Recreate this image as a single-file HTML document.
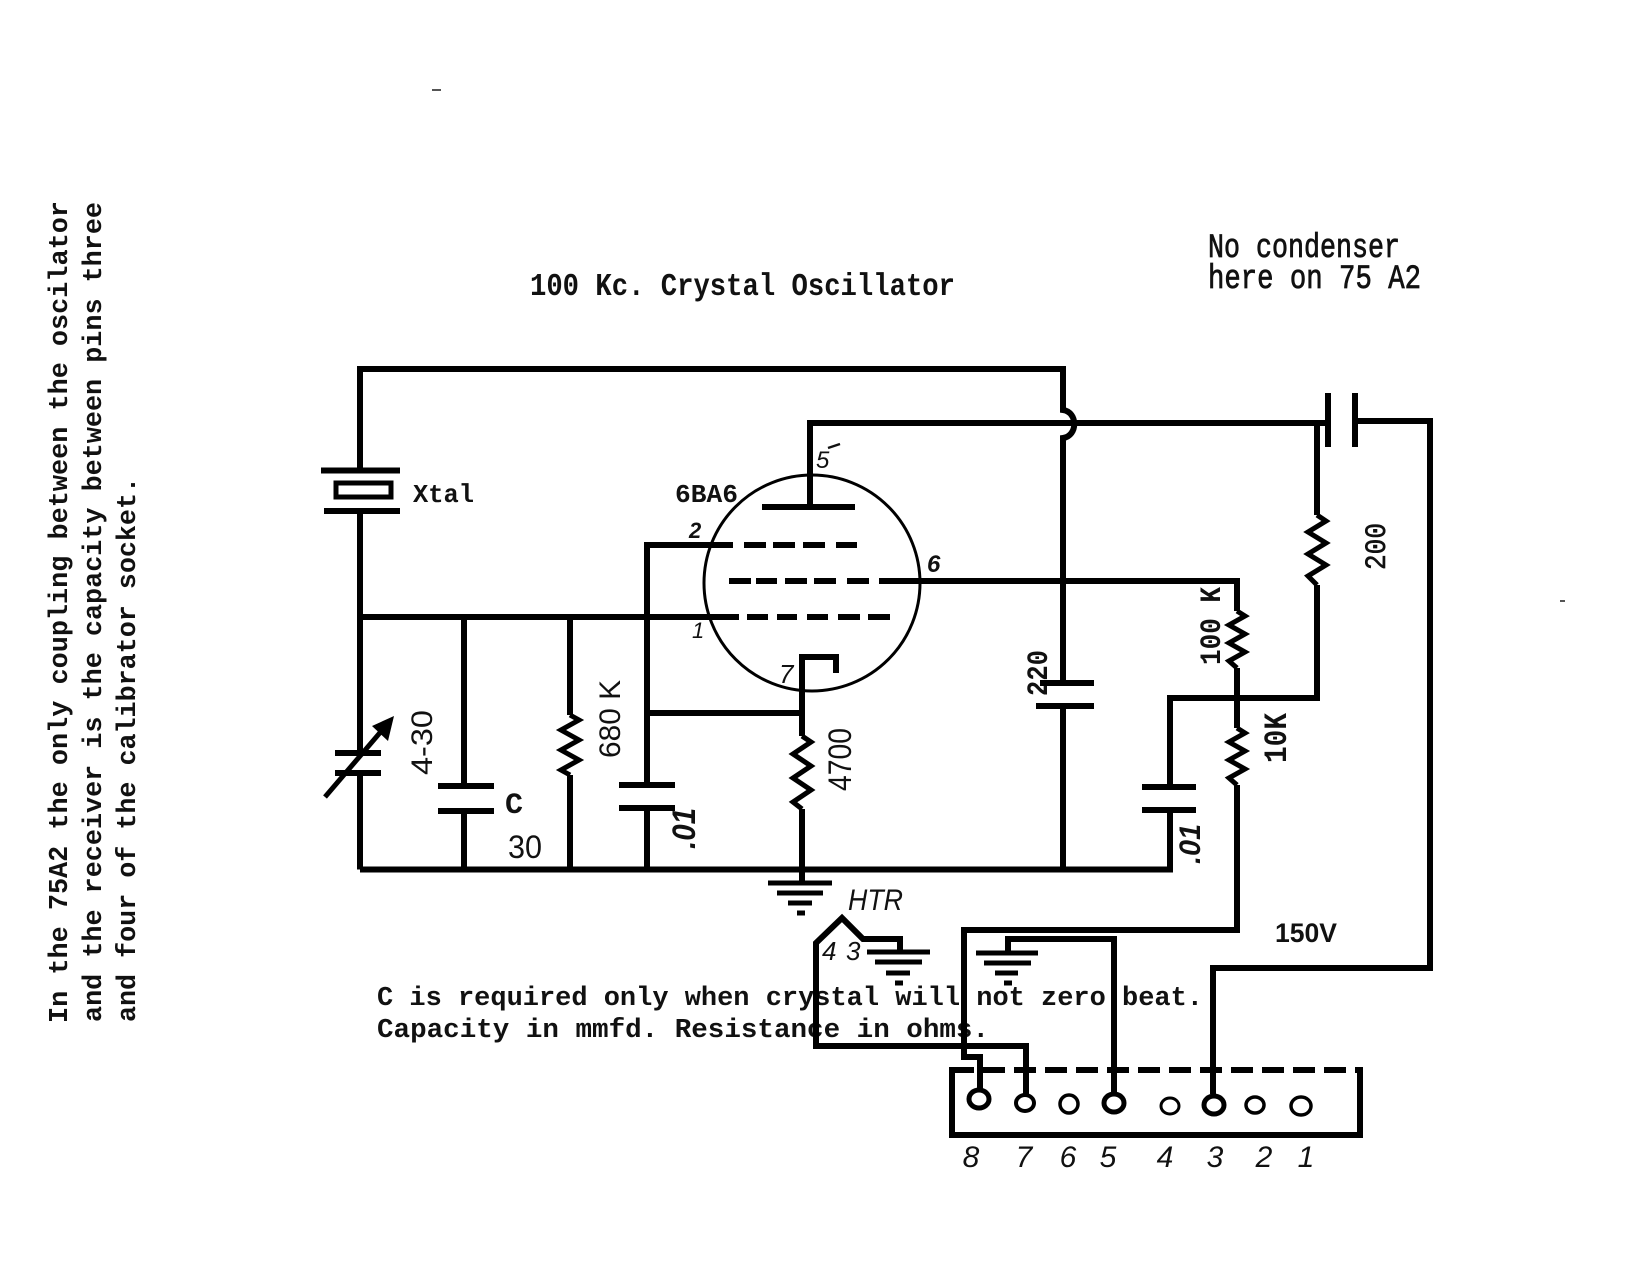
<!DOCTYPE html>
<html>
<head>
<meta charset="utf-8">
<style>
html,body{margin:0;padding:0;background:#fff;}
svg{display:block;}
.mono{font-family:"Liberation Mono",monospace;}
.sans{font-family:"Liberation Sans",sans-serif;}
</style>
</head>
<body>
<svg width="1650" height="1275" viewBox="0 0 1650 1275" xmlns="http://www.w3.org/2000/svg">
<rect x="0" y="0" width="1650" height="1275" fill="#fff"/>

<!-- specks -->
<rect x="432" y="89" width="9" height="2" fill="#555"/>
<rect x="1560" y="600" width="5" height="2" fill="#555"/>

<!-- ===== TEXT ===== -->
<g class="mono" font-weight="bold" font-size="27" fill="#111">
  <text transform="translate(67,1023) rotate(-90)" textLength="822" lengthAdjust="spacingAndGlyphs">In the 75A2 the only coupling between the oscilator</text>
  <text transform="translate(101,1022) rotate(-90)" textLength="820" lengthAdjust="spacingAndGlyphs">and the receiver is the capacity between pins three</text>
  <text transform="translate(135,1022) rotate(-90)" textLength="545" lengthAdjust="spacingAndGlyphs">and four of the calibrator socket.</text>
</g>

<text class="mono" x="530" y="295" font-size="27" font-weight="bold" fill="#111" textLength="425" lengthAdjust="spacingAndGlyphs" transform="translate(0,-44) scale(1,1.15)">100 Kc. Crystal Oscillator</text>

<g class="mono" font-size="27" fill="#111" stroke="#111" stroke-width="0.6">
  <text x="1208" y="257" textLength="192" lengthAdjust="spacingAndGlyphs" transform="translate(0,-67) scale(1,1.26)">No condenser</text>
  <text x="1208" y="288" textLength="213" lengthAdjust="spacingAndGlyphs" transform="translate(0,-75) scale(1,1.26)">here on 75 A2</text>
</g>

<g class="mono" font-weight="bold" font-size="26.5" fill="#111">
  <text x="377" y="1005" textLength="826" lengthAdjust="spacingAndGlyphs">C is required only when crystal will not zero beat.</text>
  <text x="377" y="1037" textLength="612" lengthAdjust="spacingAndGlyphs">Capacity in mmfd.  Resistance in ohms.</text>
</g>

<!-- component labels -->
<text class="mono" x="413" y="502" font-size="26" font-weight="bold" fill="#111" textLength="61" lengthAdjust="spacingAndGlyphs">Xtal</text>
<text class="mono" x="675" y="502" font-size="26" font-weight="bold" fill="#111" textLength="63" lengthAdjust="spacingAndGlyphs">6BA6</text>

<g class="sans" font-style="italic" fill="#111">
  <text x="816" y="468" font-size="24">5</text>
  <path d="M828,448 L840,444" stroke="#111" stroke-width="2.5"/>
  <text x="689" y="538" font-size="22" font-weight="bold">2</text>
  <text x="927" y="572" font-size="24" font-weight="bold">6</text>
  <text x="692" y="638" font-size="22">1</text>
  <text x="779" y="683" font-size="26">7</text>
</g>

<g class="sans" fill="#111">
  <text transform="translate(432,775) rotate(-90)" font-size="30" textLength="65" lengthAdjust="spacingAndGlyphs">4-30</text>
  <text transform="translate(620,758) rotate(-90)" font-size="30" textLength="78" lengthAdjust="spacingAndGlyphs">680 K</text>
  <text transform="translate(695,849) rotate(-90)" font-size="32" font-style="italic" font-weight="bold" textLength="41" lengthAdjust="spacingAndGlyphs">.01</text>
  <text transform="translate(851,791) rotate(-90)" font-size="32" textLength="63" lengthAdjust="spacingAndGlyphs">4700</text>
  <text transform="translate(1200,864) rotate(-90)" font-size="30" font-style="italic" font-weight="bold" textLength="40" lengthAdjust="spacingAndGlyphs">.01</text>
  <text x="508" y="858" font-size="32" textLength="34" lengthAdjust="spacingAndGlyphs">30</text>
</g>
<text class="mono" x="505" y="813" font-size="30" font-weight="bold" fill="#111">C</text>

<g class="mono" font-weight="bold" fill="#111">
  <text transform="translate(1047,696) rotate(-90)" font-size="30" textLength="46" lengthAdjust="spacingAndGlyphs">220</text>
  <text transform="translate(1220,665) rotate(-90)" font-size="30" textLength="78" lengthAdjust="spacingAndGlyphs">100 K</text>
  <text transform="translate(1286,763) rotate(-90)" font-size="32" textLength="50" lengthAdjust="spacingAndGlyphs">10K</text>
  <text transform="translate(1385,570) rotate(-90)" font-size="30" font-weight="normal" stroke="#111" stroke-width="0.6" textLength="47" lengthAdjust="spacingAndGlyphs">200</text>
</g>

<text class="sans" x="1275" y="942" font-size="27" font-weight="bold" fill="#111" textLength="62" lengthAdjust="spacingAndGlyphs">150V</text>

<g class="sans" font-style="italic" fill="#111">
  <text x="848" y="910" font-size="30" textLength="55" lengthAdjust="spacingAndGlyphs">HTR</text>
  <text x="822" y="960" font-size="26">4</text>
  <text x="846" y="960" font-size="26">3</text>
</g>

<g class="sans" font-style="italic" font-size="30" fill="#111" text-anchor="middle">
  <text x="971" y="1167">8</text>
  <text x="1024" y="1167">7</text>
  <text x="1068" y="1167">6</text>
  <text x="1108" y="1167">5</text>
  <text x="1165" y="1167">4</text>
  <text x="1215" y="1167">3</text>
  <text x="1264" y="1167">2</text>
  <text x="1306" y="1167">1</text>
</g>

<!-- ===== WIRES ===== -->
<g fill="none" stroke="#000" stroke-width="6" stroke-linecap="square" stroke-linejoin="miter">
  <!-- top loop through crystal to 220 cap -->
  <path d="M360,470 V369 H1063 V410 C1078,412 1078,436 1063,438 V683" stroke-linecap="butt"/>
  <path d="M1063,706 V869"/>
  <!-- left vertical -->
  <path d="M360,511 V753" stroke-linecap="butt"/>
  <path d="M360,773 V869.5" stroke-linecap="butt"/>
  <!-- bottom wire -->
  <path d="M360,869.5 H1170 V810" stroke-linecap="butt"/>
  <!-- grid 1 wire -->
  <path d="M360,617 H739" stroke-linecap="butt"/>
  <!-- cap C -->
  <path d="M464,617 V786" stroke-linecap="butt"/>
  <path d="M464,811 V869" stroke-linecap="butt"/>
  <!-- 680K -->
  <path d="M570,617 V715" stroke-linecap="butt"/>
  <path d="M570,775 V869" stroke-linecap="butt"/>
  <!-- grid 2 / .01 -->
  <path d="M647,785 V545 H733" stroke-linecap="butt"/>
  <path d="M647,808 V869" stroke-linecap="butt"/>
  <path d="M647,713 H802" stroke-linecap="butt"/>
  <!-- cathode -->
  <path d="M802,883 V809" stroke-linecap="butt"/>
  <path d="M802,736 V657 H836 V673" stroke-linecap="butt"/>
  <!-- plate -->
  <path d="M810,507 V423 H1325" stroke-linecap="butt"/>
  <path d="M762,507 H855" stroke-linecap="butt"/>
  <!-- 200 branch -->
  <path d="M1317,423 V515" stroke-linecap="butt"/>
  <path d="M1317,585 V698 H1170 V787" stroke-linecap="butt"/>
  <!-- grid 3 / B+ -->
  <path d="M879,581 H1237 V611" stroke-linecap="butt"/>
  <path d="M1237,668 V728" stroke-linecap="butt"/>
  <path d="M1237,785 V930 H964 V1057 H980 V1091" stroke-linecap="butt"/>
  <!-- output cap & wire -->
  <path d="M1328,393 V447" stroke-linecap="butt"/>
  <path d="M1355,393 V447" stroke-linecap="butt"/>
  <path d="M1355,421 H1430 V968 H1213 V1094" stroke-linecap="butt"/>
  <!-- heater -->
  <path d="M900,952 V939 H863 L842,918 L816,943 V1046 H1026 V1094" stroke-linecap="butt"/>
  <!-- ground 2 to pin 5 -->
  <path d="M1008,952 V939 H1114 V1093" stroke-linecap="butt"/>
  <!-- socket -->
  <path d="M952,1067 V1135 H1360 V1067" stroke-linecap="butt"/>
  <path d="M952,1070 H1360" stroke-dasharray="22 9" stroke-linecap="butt"/>

  <!-- crystal plates -->
  <path d="M321,470.5 H400" stroke-linecap="butt"/>
  <path d="M324,511 H400" stroke-linecap="butt"/>
  <!-- capacitor plates -->
  <path d="M335,753 H381 M335,773 H381" stroke-linecap="butt"/>
  <path d="M438,786 H494 M438,811 H494" stroke-linecap="butt"/>
  <path d="M619,785 H675 M619,808 H675" stroke-linecap="butt"/>
  <path d="M1040,683 H1094 M1036,706 H1094" stroke-linecap="butt"/>
  <path d="M1142,787 H1196 M1142,810 H1196" stroke-linecap="butt"/>

  <!-- grid dashes -->
  <path d="M744,545 H766 M773,545 H795 M803,545 H825 M836,545 H857" stroke-linecap="butt"/>
  <path d="M729,581 H751 M756,581 H777 M785,581 H807 M814,581 H836 M847,581 H869" stroke-linecap="butt"/>
  <path d="M747,617 H768 M777,617 H797 M807,617 H828 M838,617 H860 M868,617 H890" stroke-linecap="butt"/>
</g>

<!-- crystal body -->
<rect x="336" y="483" width="55" height="14" fill="none" stroke="#000" stroke-width="5"/>

<!-- variable cap arrow -->
<path d="M325,797 L384,728" stroke="#000" stroke-width="5" fill="none"/>
<polygon points="394,716 372,726 388,741" fill="#000"/>

<!-- tube envelope -->
<circle cx="812" cy="583" r="108" fill="none" stroke="#000" stroke-width="3"/>

<!-- resistors -->
<g fill="none" stroke="#000" stroke-width="5" stroke-linejoin="miter">
  <polyline points="570,715 579,720 561,730 579,740 561,750 579,760 561,770 570,775"/>
  <polyline points="802,736 811,742 793,754 811,766 793,778 811,790 793,802 802,809"/>
  <polyline points="1317,515 1326,521 1308,532 1326,543 1308,554 1326,565 1308,576 1317,585"/>
  <polyline points="1237,611 1245,616 1229,625 1245,634 1229,643 1245,652 1229,661 1237,668"/>
  <polyline points="1237,728 1245,733 1229,742 1245,751 1229,760 1245,769 1229,778 1237,785"/>
</g>

<!-- grounds -->
<g stroke="#000" stroke-width="5" fill="none">
  <path d="M768,883 H832 M777,893 H823 M788,903 H812 M797,913 H805"/>
  <path d="M867,952 H930 M875,962 H922 M886,973 H910 M895,983 H903"/>
  <path d="M976,953 H1038 M984,963 H1031 M995,973 H1018 M1004,983 H1012"/>
</g>

<!-- socket pins -->
<g fill="#fff" stroke="#000">
  <ellipse cx="979" cy="1099" rx="10" ry="9" stroke-width="5"/>
  <ellipse cx="1025" cy="1103" rx="9" ry="8" stroke-width="4"/>
  <ellipse cx="1069" cy="1104" rx="9" ry="9" stroke-width="3.5"/>
  <ellipse cx="1114" cy="1103" rx="10" ry="9" stroke-width="5"/>
  <ellipse cx="1170" cy="1106" rx="9" ry="8" stroke-width="3"/>
  <ellipse cx="1214" cy="1105" rx="10" ry="9" stroke-width="5"/>
  <ellipse cx="1255" cy="1105" rx="9" ry="8" stroke-width="3.5"/>
  <ellipse cx="1301" cy="1106" rx="10" ry="9" stroke-width="3.5"/>
</g>
</svg>
</body>
</html>
